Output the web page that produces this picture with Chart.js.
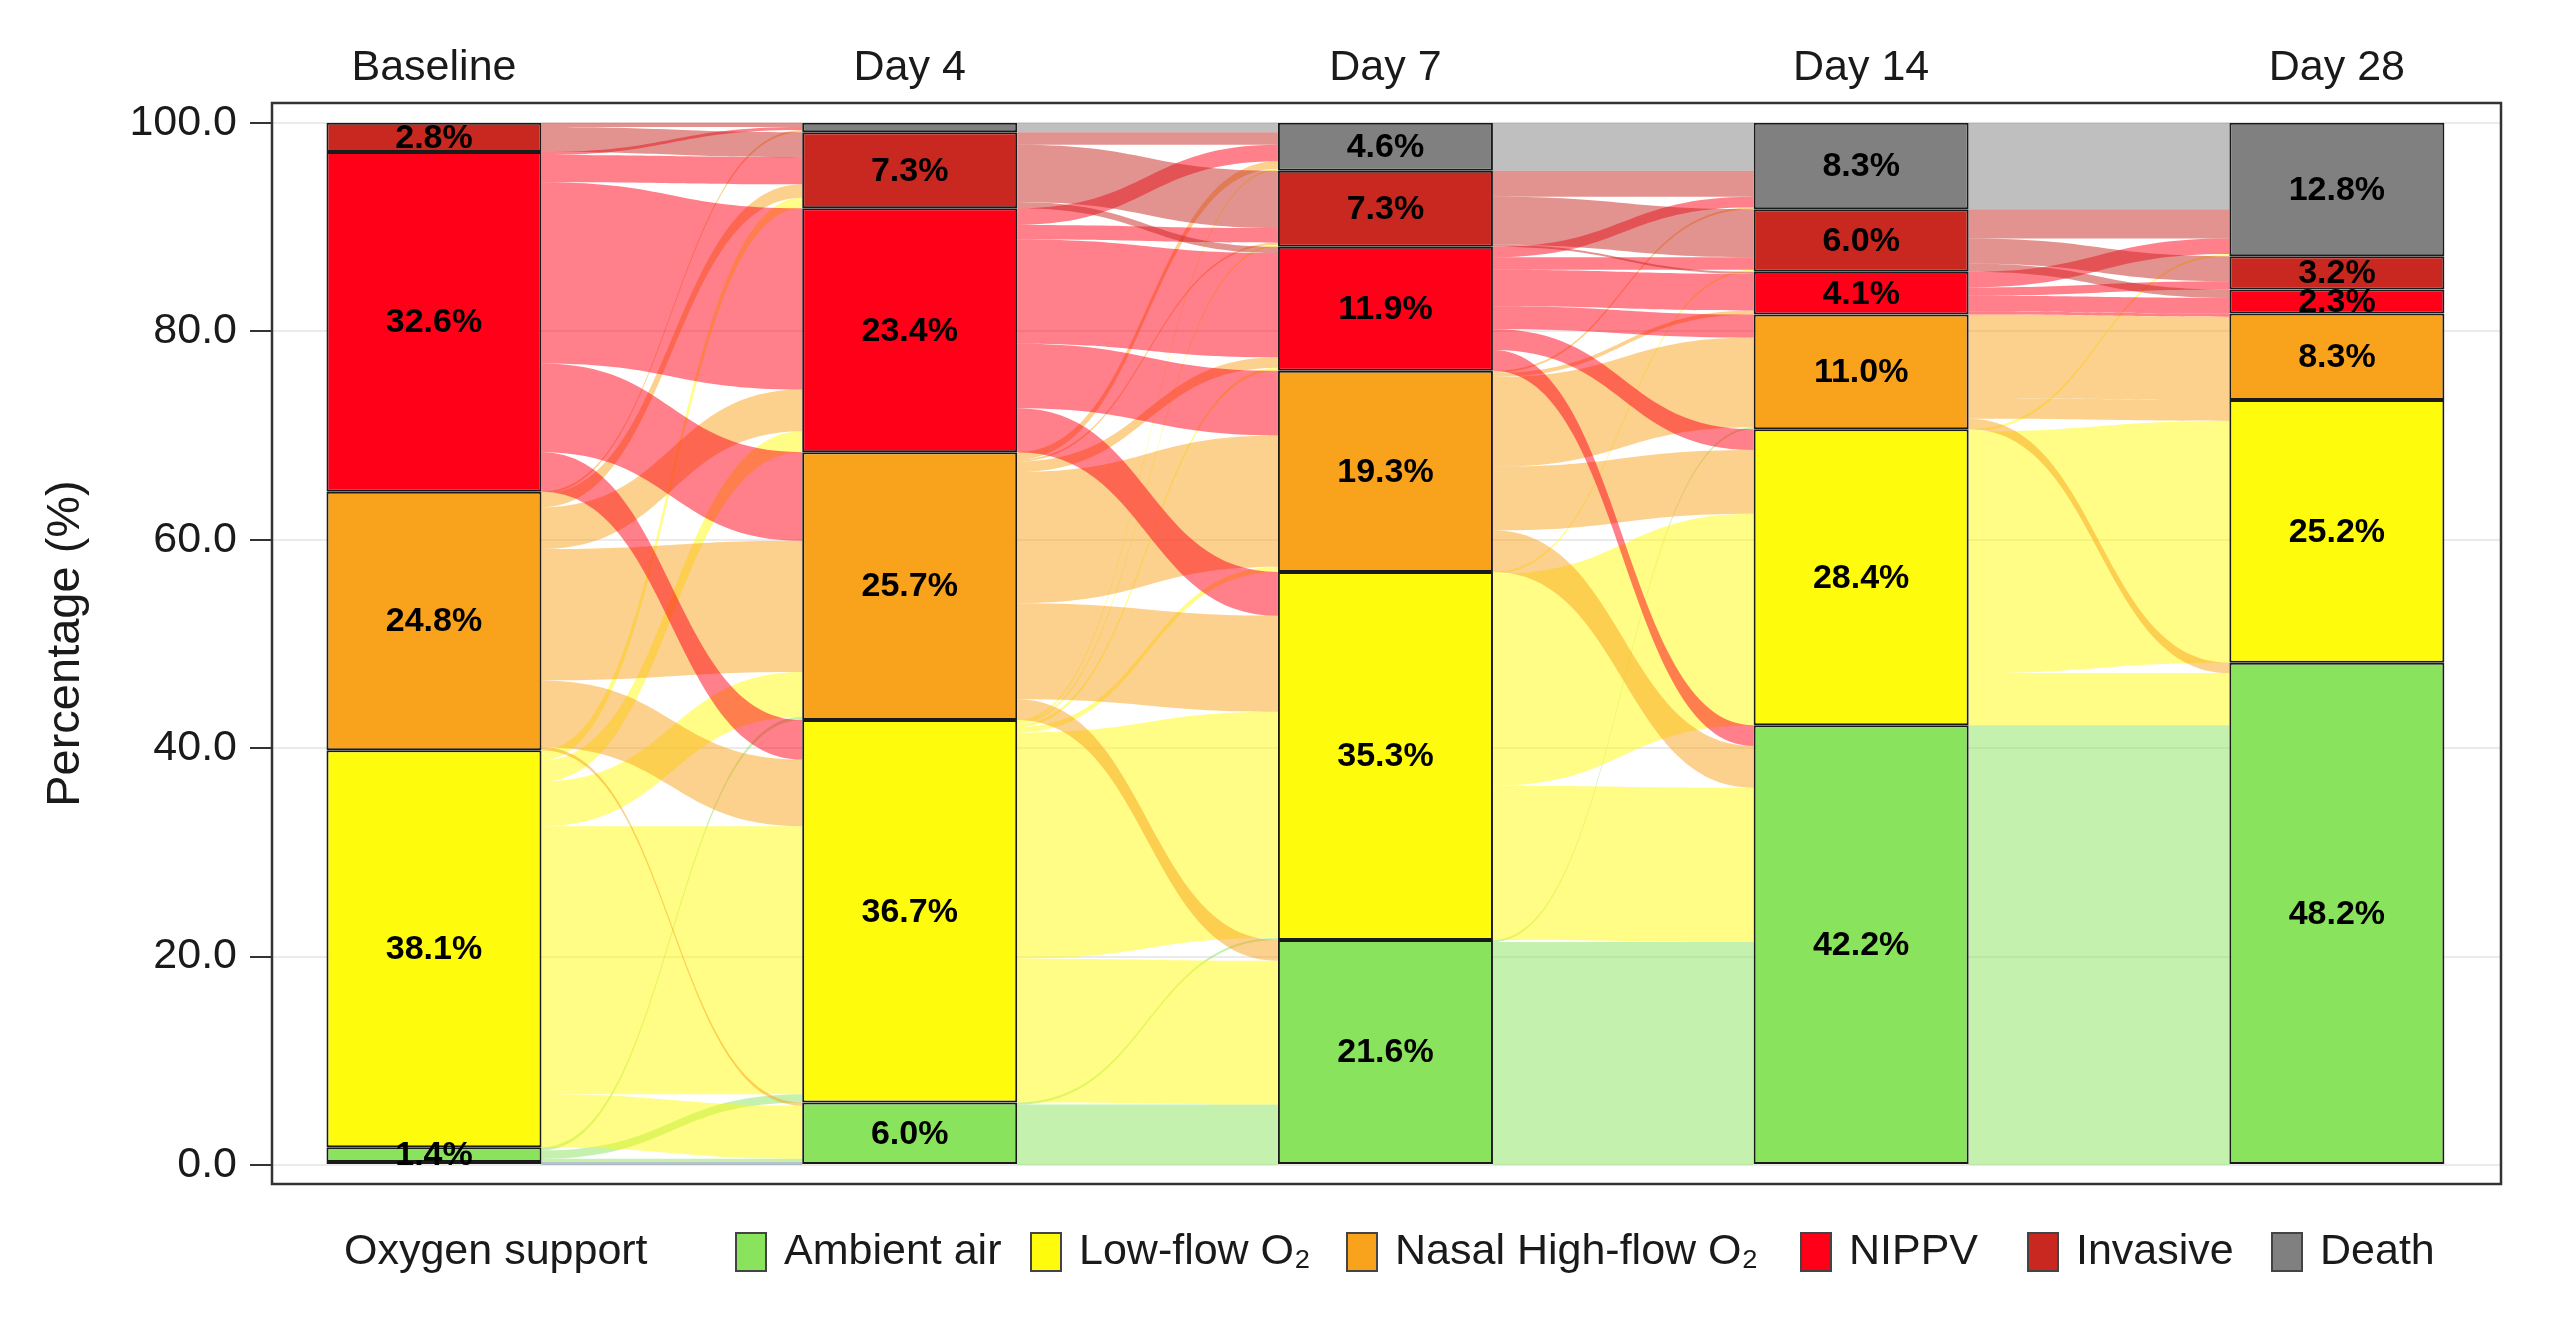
<!DOCTYPE html>
<html>
<head>
<meta charset="utf-8">
<script src="https://cdn.jsdelivr.net/npm/chart.js@4.4.1/dist/chart.umd.min.js"></script>
<style>
    html, body { margin: 0; padding: 0; background: #ffffff; }
    canvas { display: block; }
</style>
</head>
<body>
<canvas id="oxygenChart" width="2572" height="1324"></canvas>
<script>
const timepoints = ['Baseline', 'Day 4', 'Day 7', 'Day 14', 'Day 28'];
const states = ['Missing', 'Ambient air', 'Low-flow O₂', 'Nasal High-flow O₂', 'NIPPV', 'Invasive', 'Death'];
const yTicks = [0, 20, 40, 60, 80, 100];

// share of patients (%) per state at each time point
const missing  = [0.3, 0.0, 0.0, 0.0, 0.0];
const ambient  = [1.4, 6.0, 21.6, 42.2, 48.2];
const lowFlow  = [38.1, 36.7, 35.3, 28.4, 25.2];
const highFlow = [24.8, 25.7, 19.3, 11.0, 8.3];
const nippv    = [32.6, 23.4, 11.9, 4.1, 2.3];
const invasive = [2.8, 7.3, 7.3, 6.0, 3.2];
const death    = [0.0, 0.9, 4.6, 8.3, 12.8];

// transitions (% of patients), rows = from, columns = to
// order: Missing, Ambient, Low-flow, High-flow, NIPPV, Invasive, Death
const flowsBaselineDay4 = [
    [0, 0.3, 0, 0, 0, 0, 0],
    [0, 0.3, 0.8, 0.3, 0, 0, 0],
    [0, 5.1, 25.7, 4.3, 2.0, 1.0, 0],
    [0, 0.3, 6.4, 12.6, 4.0, 1.3, 0.2],
    [0, 0, 3.8, 8.5, 17.4, 2.6, 0.3],
    [0, 0, 0, 0, 0, 2.4, 0.4],
    [0, 0, 0, 0, 0, 0, 0]
];
const flowsDay4Day7 = [
    [0, 0, 0, 0, 0, 0, 0],
    [0, 5.8, 0.2, 0, 0, 0, 0],
    [0, 13.8, 21.7, 0.5, 0.3, 0.2, 0.2],
    [0, 2.0, 9.2, 12.6, 1.0, 0.2, 0.7],
    [0, 0, 4.2, 6.2, 10.0, 1.4, 1.6],
    [0, 0, 0, 0, 0.6, 5.5, 1.2],
    [0, 0, 0, 0, 0, 0, 0.9]
];
const flowsDay7Day14 = [
    [0, 0, 0, 0, 0, 0, 0],
    [0, 21.4, 0, 0.2, 0, 0, 0],
    [0, 14.8, 20.3, 0, 0, 0.2, 0],
    [0, 4.0, 6.1, 8.6, 0.4, 0, 0.2],
    [0, 2.0, 2.0, 2.2, 3.5, 1.2, 1.0],
    [0, 0, 0, 0, 0.2, 4.6, 2.5],
    [0, 0, 0, 0, 0, 0, 4.6]
];
const flowsDay14Day28 = [
    [0, 0, 0, 0, 0, 0, 0],
    [0, 42.2, 0, 0, 0, 0, 0],
    [0, 5.0, 23.2, 0, 0, 0, 0.2],
    [0, 1.0, 2.0, 8.0, 0, 0, 0],
    [0, 0, 0, 0.3, 1.5, 0.8, 1.5],
    [0, 0, 0, 0, 0.8, 2.4, 2.8],
    [0, 0, 0, 0, 0, 0, 8.3]
];

const shares = [missing, ambient, lowFlow, highFlow, nippv, invasive, death];
const transitions = [flowsBaselineDay4, flowsDay4Day7, flowsDay7Day14, flowsDay14Day28];

const stateColors = ['#6f8597', '#8ae35c', '#fffb0c', '#f9a21b', '#ff0018', '#c8281f', '#808080'];
const legendBoxX = [736, 1031, 1347, 1801, 2028, 2272];
const BAR_FRAC = 0.452;
const FLOW_ALPHA = 0.5;
const TEXT = '#1a1a1a';
const FONT = "'Liberation Sans', Arial, sans-serif";

Chart.defaults.font.family = FONT;
Chart.defaults.color = TEXT;

function withAlpha(hex, a) {
    const n = parseInt(hex.slice(1), 16);
    return 'rgba(' + (n >> 16) + ',' + ((n >> 8) & 255) + ',' + (n & 255) + ',' + a + ')';
}

// top of every stratum (in %) at time point t
function stratumTops(t) {
    const tops = [];
    let acc = 0;
    for (let k = 0; k < shares.length; k++) {
        acc += shares[k][t];
        tops.push(acc);
    }
    return tops;
}

const flowPlugin = {
    id: 'alluvialFlows',
    beforeDatasetsDraw(chart) {
        const {ctx, chartArea, scales: {x, y}} = chart;
        ctx.save();
        ctx.beginPath();
        ctx.rect(chartArea.left, chartArea.top, chartArea.right - chartArea.left, chartArea.bottom - chartArea.top);
        ctx.clip();

        transitions.forEach((m, t) => {
            const xl = x.getPixelForValue(t + BAR_FRAC / 2);
            const xr = x.getPixelForValue(t + 1 - BAR_FRAC / 2);
            const xm = (xl + xr) / 2;
            const topsL = stratumTops(t);
            const topsR = stratumTops(t + 1);
            const n = states.length;

            // outgoing lodes: stacked by destination, highest destination on top
            const outTop = [];
            for (let s = 0; s < n; s++) {
                outTop.push([]);
                let cur = topsL[s];
                for (let d = n - 1; d >= 0; d--) {
                    outTop[s][d] = cur;
                    cur -= m[s][d];
                }
            }
            // incoming lodes: stacked by source, highest source on top
            const inTop = [];
            for (let d = 0; d < n; d++) {
                inTop.push([]);
                let cur = topsR[d];
                for (let s = n - 1; s >= 0; s--) {
                    inTop[d][s] = cur;
                    cur -= m[s][d];
                }
            }

            for (let s = 0; s < n; s++) {
                for (let d = 0; d < n; d++) {
                    const v = m[s][d];
                    if (v <= 0) continue;
                    const y0t = y.getPixelForValue(outTop[s][d]);
                    const y0b = y.getPixelForValue(outTop[s][d] - v);
                    const y1t = y.getPixelForValue(inTop[d][s]);
                    const y1b = y.getPixelForValue(inTop[d][s] - v);
                    ctx.beginPath();
                    ctx.moveTo(xl, y0t);
                    ctx.bezierCurveTo(xm, y0t, xm, y1t, xr, y1t);
                    ctx.lineTo(xr, y1b);
                    ctx.bezierCurveTo(xm, y1b, xm, y0b, xl, y0b);
                    ctx.closePath();
                    ctx.fillStyle = withAlpha(stateColors[s], FLOW_ALPHA);
                    ctx.fill();
                }
            }
        });
        ctx.restore();
    },
    afterDatasetsDraw(chart) {
        const {ctx, chartArea} = chart;

        // bar labels
        ctx.save();
        ctx.font = 'bold 34px ' + FONT;
        ctx.fillStyle = '#000000';
        ctx.textAlign = 'center';
        ctx.textBaseline = 'middle';
        for (let k = 1; k < shares.length; k++) {
            const meta = chart.getDatasetMeta(k);
            meta.data.forEach((bar, i) => {
                const v = shares[k][i];
                if (v < 1) return;
                ctx.fillText(v.toFixed(1) + '%', bar.x, (bar.y + bar.base) / 2 + 1);
            });
        }
        ctx.restore();

        // panel frame
        ctx.save();
        ctx.strokeStyle = '#333333';
        ctx.lineWidth = 2.5;
        ctx.strokeRect(chartArea.left, chartArea.top, chartArea.right - chartArea.left, chartArea.bottom - chartArea.top);
        ctx.restore();
    }
};

const legendPlugin = {
    id: 'oxygenLegend',
    afterDraw(chart) {
        const {ctx} = chart;
        const yc = 1252;
        ctx.save();
        ctx.font = '43px ' + FONT;
        ctx.fillStyle = TEXT;
        ctx.textBaseline = 'middle';
        ctx.textAlign = 'left';
        ctx.fillText('Oxygen support', 344, yc);

        for (let k = 1; k < states.length; k++) {
            const bx = legendBoxX[k - 1];
            ctx.fillStyle = stateColors[k];
            ctx.fillRect(bx, yc - 19, 30, 38);
            ctx.strokeStyle = '#444444';
            ctx.lineWidth = 2;
            ctx.strokeRect(bx, yc - 19, 30, 38);
            ctx.fillStyle = TEXT;
            ctx.fillText(states[k], bx + 48, yc);
        }
        ctx.restore();
    }
};

const oxygenCtx = document.getElementById('oxygenChart');

new Chart(oxygenCtx, {
    type: 'bar',

    plugins: [flowPlugin, legendPlugin],

    data: {
        datasets: states.map((name, k) => ({
            label: name,
            data: shares[k].map((v, i) => ({x: i, y: v})),
            backgroundColor: stateColors[k],
            borderColor: '#1a1a1a',
            borderWidth: 2,
            borderSkipped: false,
            categoryPercentage: 1,
            barPercentage: BAR_FRAC
        }))
    },

    options: {
        responsive: false,
        animation: false,

        layout: {
            padding: {left: 0, right: 71, top: 0, bottom: 140}
        },

        plugins: {
            legend: {display: false},
            tooltip: {enabled: false}
        },

        scales: {
            x: {
                type: 'linear',
                position: 'top',
                min: -0.3405,
                max: 4.345,
                offset: false,
                stacked: true,
                grid: {display: false, drawTicks: false},
                border: {display: false},
                afterBuildTicks: function(scale) {
                    scale.ticks = timepoints.map((_, i) => ({value: i}));
                },
                afterFit: function(scale) {
                    scale.height = 103;
                },
                ticks: {
                    autoSkip: false,
                    maxRotation: 0,
                    padding: 9,
                    color: TEXT,
                    font: {size: 43},
                    callback: function(value) {
                        return timepoints[value];
                    }
                }
            },

            y: {
                min: -1.82,
                max: 101.9,
                stacked: true,
                border: {display: false},
                grid: {
                    color: '#ebebeb',
                    lineWidth: 2,
                    tickLength: 22,
                    tickColor: '#333333',
                    tickWidth: 2
                },
                afterBuildTicks: function(scale) {
                    scale.ticks = yTicks.map(v => ({value: v}));
                },
                afterFit: function(scale) {
                    scale.width = 272;
                },
                ticks: {
                    padding: 13,
                    color: TEXT,
                    font: {size: 43},
                    callback: function(value) {
                        return value.toFixed(1);
                    }
                },
                title: {
                    display: true,
                    text: 'Percentage (%)',
                    color: TEXT,
                    font: {size: 47},
                    padding: {top: 38, bottom: 0}
                }
            }
        }
    }
});
</script>
</body>
</html>
